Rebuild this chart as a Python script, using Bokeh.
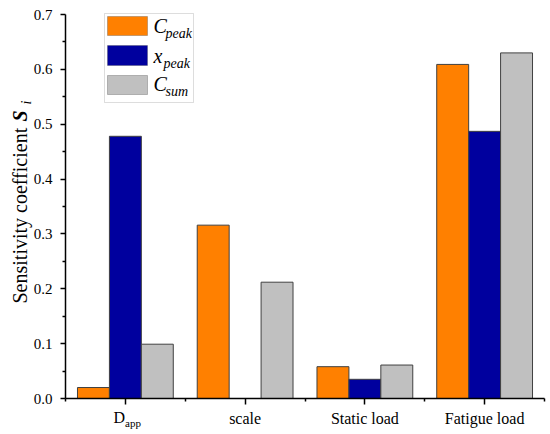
import numpy as np
from math import pi
from bokeh.plotting import figure
from bokeh.models import (Range1d, FixedTicker, PrintfTickFormatter, Label, BoxAnnotation)
from bokeh.embed import file_html
from bokeh.resources import INLINE

# ---------------- data ----------------
categories = ["D_app", "scale", "Static load", "Fatigue load"]
tick_labels = ["", "scale", "Static load", "Fatigue load"]   # D_app is drawn with a subscript below
series_names = ["C_peak", "x_peak", "C_sum"]
c_peak = [0.020, 0.316, 0.058, 0.609]
x_peak = [0.478, 0.000, 0.035, 0.487]
c_sum = [0.099, 0.212, 0.061, 0.630]
series_values = [c_peak, x_peak, c_sum]
series_colors = ["#FF8000", "#00009E", "#C0C0C0"]
y_ticks = [0.0, 0.1, 0.2, 0.3, 0.4, 0.5, 0.6, 0.7]
y_max = 0.7

FONT = "Liberation Serif"
n_cat = len(categories)
group_w = 0.8
bar_w = group_w / len(series_names)

# canvas and where the axes sit on it (pixels)
W, H = 550, 434
AX_L, AX_R, AX_T, AX_B = 65, 544, 14, 398
x_per_px = n_cat / (AX_R - AX_L)
y_per_px = y_max / (AX_B - AX_T)

# the frame covers the whole canvas; the axes are pinned at x=0 / y=0 so that
# every text (also the rotated y label and the subscripted tick label) lies inside it
p = figure(width=W, height=H, min_border=0,
           x_range=Range1d(-AX_L * x_per_px, n_cat + (W - AX_R) * x_per_px),
           y_range=Range1d(-(H - AX_B) * y_per_px, y_max + AX_T * y_per_px),
           output_backend="svg", toolbar_location=None, tools="")
p.outline_line_color = None
p.xgrid.visible = False
p.ygrid.visible = False
p.background_fill_color = "white"
p.border_fill_color = "white"

centers = np.arange(n_cat) + 0.5
for k, (vals, col) in enumerate(zip(series_values, series_colors)):
    offs = (k - (len(series_names) - 1) / 2) * bar_w
    p.vbar(x=centers + offs, top=vals, bottom=0, width=bar_w,
           fill_color=col, line_color="#404040", line_width=1)

# ---------------- axes ----------------
xa = p.xaxis[0]
xa.fixed_location = 0
xa.bounds = (0, n_cat)
xa.ticker = FixedTicker(ticks=list(centers), minor_ticks=list(np.arange(n_cat + 1)))
xa.major_label_overrides = {float(c): t for c, t in zip(centers, tick_labels)}
xa.major_label_text_font = FONT
xa.major_label_text_font_size = "16px"
xa.major_label_text_color = "black"
xa.major_label_standoff = 5
xa.major_tick_out = 6
xa.major_tick_in = 0
xa.minor_tick_out = 3
xa.minor_tick_in = 0
xa.axis_line_width = 1.5
xa.axis_line_color = "black"
xa.major_tick_line_color = "black"
xa.minor_tick_line_color = "black"
xa.major_tick_line_width = 1.5
xa.minor_tick_line_width = 1.5

ya = p.yaxis[0]
ya.fixed_location = 0
ya.bounds = (0, y_max)
ya.ticker = FixedTicker(ticks=y_ticks, minor_ticks=[t + 0.05 for t in y_ticks[:-1]])
ya.formatter = PrintfTickFormatter(format="%.1f")
ya.major_label_text_font = FONT
ya.major_label_text_font_size = "15px"
ya.major_label_text_color = "black"
ya.major_label_standoff = 8
ya.major_tick_out = 5
ya.major_tick_in = 0
ya.minor_tick_out = 3
ya.minor_tick_in = 0
ya.axis_line_width = 1.5
ya.axis_line_color = "black"
ya.major_tick_line_color = "black"
ya.minor_tick_line_color = "black"
ya.major_tick_line_width = 1.5
ya.minor_tick_line_width = 1.5

# ---------- helpers mapping canvas pixels to data (annotation layout only) ----------
def dx(px):
    return (px - AX_L) * x_per_px
def dy(py):
    return (AX_B - py) * y_per_px

H_MID = 0.38  # anchor offset above the baseline for horizontal texts, in em
V_MID = 0.33  # same for the rotated texts

def lab(text, px, py, size, style="normal", align="left"):
    # (px, py): start / baseline of the text on the canvas
    p.add_layout(Label(x=dx(px), y=dy(py - H_MID * size), text=text, text_font=FONT,
                       text_font_size=f"{size}px", text_font_style=style,
                       text_color="black", text_align=align, text_baseline="middle"))

def vlab(text, px, py, size, style="normal"):
    # rotated text reading upwards; px is the baseline column, py the start
    p.add_layout(Label(x=dx(px - V_MID * size), y=dy(py), text=text, text_font=FONT,
                       text_font_size=f"{size}px", text_font_style=style,
                       text_color="black", text_align="left", text_baseline="middle",
                       angle=pi / 2))

# D_app tick label with subscript
lab("D", 124.5, 423, 16, align="right")
lab("app", 124.5, 427, 11)

# y axis label: Sensitivity coefficient S_i
vlab("Sensitivity coefficient", 26, 303, 20)
vlab("S", 26, 121, 20, style="bold italic")
vlab("i", 31, 104, 14, style="italic")

# ---------------- legend ----------------
p.add_layout(BoxAnnotation(left=dx(104), right=dx(193), top=dy(13), bottom=dy(102),
                           fill_color="white", fill_alpha=1.0,
                           line_color="#909090", line_width=1))
swatch_rows = [(16, 35), (45, 65), (75, 94)]
for (t, b), col in zip(swatch_rows, series_colors):
    p.add_layout(BoxAnnotation(left=dx(107), right=dx(147), top=dy(t), bottom=dy(b),
                               fill_color=col, fill_alpha=1.0,
                               line_color="#404040", line_width=1))
legend_main = ["C", "x", "C"]
legend_sub = ["peak", "peak", "sum"]
main_base = [33, 63, 91]
sub_x = [165, 163, 165]
for m, s, yb, sx in zip(legend_main, legend_sub, main_base, sub_x):
    lab(m, 153, yb, 20, style="italic")
    lab(s, sx, yb + 5, 14, style="italic")

open("out.html", "w").write(file_html(p, INLINE))
